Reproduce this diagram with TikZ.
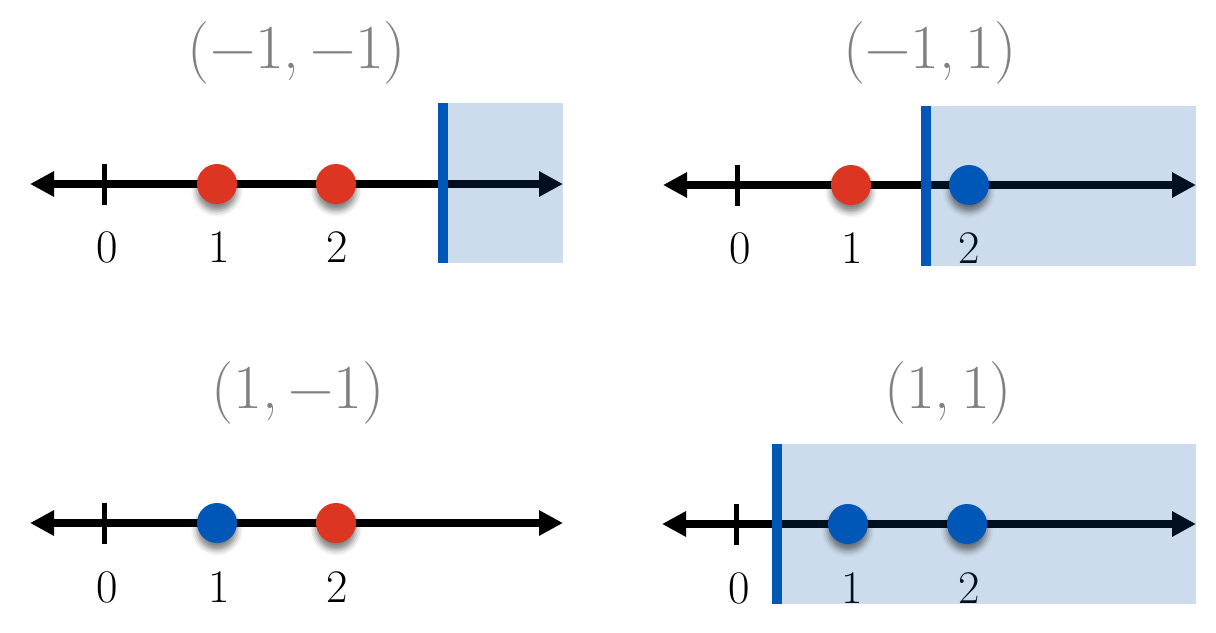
\documentclass[tikz,border=0pt]{standalone}
\usetikzlibrary{arrows.meta,shadows.blur}
\definecolor{dotred}{RGB}{220,53,34}
\definecolor{dotblue}{RGB}{0,87,184}
\definecolor{titlegray}{RGB}{128,128,128}
\definecolor{shadeblue}{RGB}{0,80,160}
\tikzset{
  numline/.style={line width=5.6pt,{Triangle[length=18pt,width=18pt]}-{Triangle[length=18pt,width=18pt]}},
  tickmark/.style={line width=3.75pt},
  lab/.style={font=\fontsize{35}{40}\selectfont, inner sep=0pt},
  ttl/.style={text=titlegray, font=\fontsize{47}{54}\selectfont, inner sep=0pt},
  shadebox/.style={fill=shadeblue, fill opacity=0.2},
  bluebar/.style={draw=dotblue, line width=7.5pt},
  dotnode/.style={circle, inner sep=0pt, minimum size=30pt,
    blur shadow={shadow xshift=0pt, shadow yshift=-5pt, shadow blur radius=4.5pt, shadow opacity=50}},
  reddot/.style={dotnode, fill=dotred},
  bluedot/.style={dotnode, fill=dotblue},
}
\begin{document}
\begin{tikzpicture}[x=0.75pt,y=-0.75pt]
\useasboundingbox (0,0) rectangle (1216,632);
% ---------- top left (-1,-1)
\node[ttl] (t1) at (297,53) {(−1,\,−1)};
\coordinate (l1a) at (30,184); \coordinate (l1b) at (563,184);
\draw[numline] (l1a) -- (l1b);
\coordinate (k1a) at (104,163.5); \coordinate (k1b) at (104,204.5);
\draw[tickmark] (k1a) -- (k1b);
\node[lab] (n10) at (107,247) {0};
\node[lab] (n11) at (219,247) {1};
\node[lab] (n12) at (337,247) {2};
\fill[shadebox] (443,103) rectangle (563,263);
\coordinate (b1a) at (443,103); \coordinate (b1b) at (443,263);
\draw[bluebar] (b1a) -- (b1b);
\node[reddot] (d11) at (217,184) {};
\node[reddot] (d12) at (336,184) {};
% ---------- top right (-1,1)
\node[ttl] (t2) at (930,53) {(−1,\,1)};
\coordinate (l2a) at (663,185); \coordinate (l2b) at (1196,185);
\draw[numline] (l2a) -- (l2b);
\coordinate (k2a) at (737,164.5); \coordinate (k2b) at (737,205.5);
\draw[tickmark] (k2a) -- (k2b);
\node[lab] (n20) at (740,248) {0};
\node[lab] (n21) at (852,248) {1};
\node[lab] (n22) at (969,248) {2};
\fill[shadebox] (926,106) rectangle (1196,266);
\coordinate (b2a) at (926,106); \coordinate (b2b) at (926,266);
\draw[bluebar] (b2a) -- (b2b);
\node[reddot] (d21) at (851,185) {};
\node[bluedot] (d22) at (969,185) {};
% ---------- bottom left (1,-1)
\node[ttl] (t3) at (298,393) {(1,\,−1)};
\coordinate (l3a) at (30,523); \coordinate (l3b) at (563,523);
\draw[numline] (l3a) -- (l3b);
\coordinate (k3a) at (104,502.5); \coordinate (k3b) at (104,543.5);
\draw[tickmark] (k3a) -- (k3b);
\node[lab] (n30) at (107,587) {0};
\node[lab] (n31) at (219,587) {1};
\node[lab] (n32) at (337,587) {2};
\node[bluedot] (d31) at (217,523) {};
\node[reddot] (d32) at (336,523) {};
% ---------- bottom right (1,1)
\node[ttl] (t4) at (948,393) {(1,\,1)};
\coordinate (l4a) at (662,524); \coordinate (l4b) at (1196,524);
\draw[numline] (l4a) -- (l4b);
\coordinate (k4a) at (736,503.5); \coordinate (k4b) at (736,544.5);
\draw[tickmark] (k4a) -- (k4b);
\node[lab] (n40) at (739,588) {0};
\node[lab] (n41) at (852,588) {1};
\node[lab] (n42) at (969,588) {2};
\fill[shadebox] (777,444) rectangle (1196,604);
\coordinate (b4a) at (777,444); \coordinate (b4b) at (777,604);
\draw[bluebar] (b4a) -- (b4b);
\node[bluedot] (d41) at (848,524) {};
\node[bluedot] (d42) at (967,524) {};
\end{tikzpicture}
\end{document}
